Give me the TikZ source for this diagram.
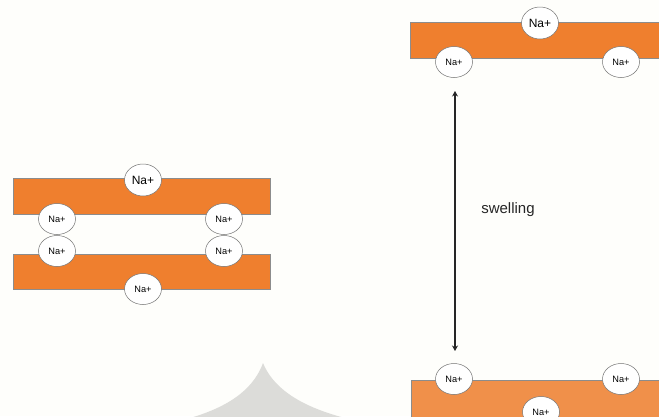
\documentclass[tikz,border=0pt]{standalone}
\usepackage{fontspec}
\setmainfont{Liberation Sans}
\usetikzlibrary{shapes.geometric,arrows.meta}
\definecolor{clayorange}{RGB}{239,127,46}
\definecolor{clayorangelight}{RGB}{240,144,74}
\definecolor{bgcol}{RGB}{254,254,251}
\definecolor{wmark}{RGB}{220,220,217}
\begin{document}
\begin{tikzpicture}[x=1pt,y=-1pt,
  layer/.style={draw=black!45,line width=0.6pt,fill=clayorange},
  ionbig/.style={ellipse,draw=black!55,line width=0.5pt,fill=white,inner sep=0pt,minimum width=37pt,minimum height=32pt,font=\fontsize{12}{13}\selectfont},
  ionsmall/.style={ellipse,draw=black!55,line width=0.5pt,fill=white,inner sep=0pt,minimum width=37pt,minimum height=31pt,font=\fontsize{9.2}{10}\selectfont},
  swellarrow/.style={line width=1.5pt,draw=black!85,{Stealth[length=5.5pt,width=6pt]}-{Stealth[length=5.5pt,width=6pt]}}]
\useasboundingbox (0,0) rectangle (659,416);
\fill[bgcol] (0,0) rectangle (659,416);
\clip (0,0) rectangle (659,416);
% faint watermark
\fill[wmark] (190,418) .. controls (235,405) and (255,385) .. (263,363)
  .. controls (272,385) and (295,405) .. (345,418) -- cycle;
% left: stacked layers
\draw[layer] (13,178) rectangle (270,214);
\draw[layer] (13,254) rectangle (270,289);
\node[ionbig] (lt) at (143,180) {Na+};
\node[ionsmall] (la) at (57,219) {Na+};
\node[ionsmall] (lb) at (224,219) {Na+};
\node[ionsmall] (lc) at (57,251) {Na+};
\node[ionsmall] (ld) at (224,251) {Na+};
\node[ionsmall] (lbot) at (143,289) {Na+};
% right: swollen layers
\draw[layer] (410,22) rectangle (662,58);
\node[ionbig] (rt) at (540,23) {Na+};
\node[ionsmall] (ra) at (454,62) {Na+};
\node[ionsmall] (rb) at (621,62) {Na+};
\draw[layer,fill=clayorangelight] (411,380) rectangle (662,420);
\node[ionsmall] (rc) at (454,379) {Na+};
\node[ionsmall] (rd) at (621,379) {Na+};
\node[ionsmall] (rbot) at (541,412) {Na+};
% swelling arrow
\coordinate (atop) at (455,91);
\coordinate (abot) at (455,351);
\draw[swellarrow] (atop) -- (abot);
\node[font=\fontsize{15}{17}\selectfont,text=black!85] (sw) at (508,210) {swelling};
\end{tikzpicture}
\end{document}
